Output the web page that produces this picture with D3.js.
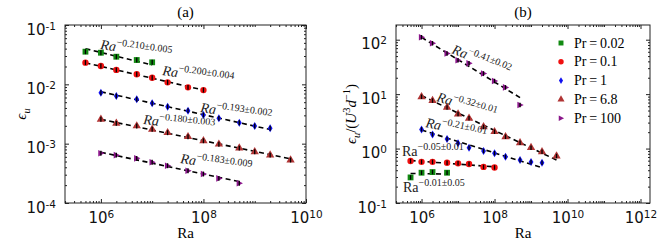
<!DOCTYPE html>
<html>
<head>
<meta charset="utf-8">
<script src="https://cdn.jsdelivr.net/npm/d3@7"></script>
<style>
  body { margin: 0; background: #fff; }
  svg { display: block; }
  .tick text { font-family: "DejaVu Sans", sans-serif; }
</style>
</head>
<body>
<script>
(function(){

    //Rayleigh numbers of the runs, per Prandtl number
    var ra002 = [5e5, 1e6, 2e6, 5e6, 1e7];
    var ra01  = [5e5, 1e6, 2e6, 5e6, 1e7, 2e7, 5e7, 1e8];
    var ra1   = [1e6, 2e6, 5e6, 1e7, 2e7, 5e7, 1e8, 2e8, 5e8, 1e9, 2e9];
    var ra68  = [1e6, 2e6, 5e6, 1e7, 2e7, 5e7, 1e8, 2e8, 5e8, 1e9, 2e9, 5e9];
    var ra100 = [1e6, 2e6, 5e6, 1e7, 2e7, 5e7, 1e8, 2e8, 5e8];

    //panel (a): dissipation rate eps_u
    var epsA002 = [0.0355, 0.0341, 0.0292, 0.0257, 0.0235];
    var epsA01  = [0.0232, 0.0204, 0.0175, 0.0148, 0.0129, 0.0108, 0.0089, 0.0080];
    var epsA1   = [0.00723, 0.00635, 0.0056, 0.00479, 0.0042, 0.0036, 0.00304, 0.00267, 0.00225, 0.00199, 0.00182];
    var epsA68  = [0.00258, 0.0022, 0.00199, 0.00175, 0.00153, 0.00131, 0.00112, 0.00098, 0.00084, 0.00073, 0.00064, 0.00053];
    var epsA100 = [0.00069, 0.00064, 0.000566, 0.000485, 0.000425, 0.00035, 0.000308, 0.00026, 0.000215];

    //panel (b): eps_u / (U^3 d^-1)
    var raB002  = [5e5, 1e6, 2e6, 5e6];
    var epsB002 = [0.295, 0.36, 0.37, 0.36];
    var epsB01  = [0.59, 0.57, 0.57, 0.55, 0.535, 0.52, 0.46, 0.45];
    var epsB1   = [2.25, 1.82, 1.50, 1.25, 1.035, 0.90, 0.82, 0.71, 0.615, 0.565, 0.55];
    var epsB68  = [8.96, 7.6, 5.7, 4.3, 3.6, 2.5, 2.04, 1.65, 1.28, 1.04, 0.87, 0.73];
    var epsB100 = [111, 86, 56, 42, 36.8, 24, 17.4, 13.3, 6.3];

    //fitted exponents and their text
    var slopeA = [-0.210, -0.200, -0.193, -0.180, -0.183];
    var slopeTextA = ["\u22120.210\u00b10.005", "\u22120.200\u00b10.004", "\u22120.193\u00b10.002", "\u22120.180\u00b10.003", "\u22120.183\u00b10.009"];
    var slopeB = [-0.01, -0.05, -0.21, -0.32, -0.41];
    var slopeTextB = ["\u22120.01\u00b10.05", "\u22120.05\u00b10.01", "\u22120.21\u00b10.01", "\u22120.32\u00b10.01", "\u22120.41\u00b10.02"];

    var prLabels = ["Pr\u2009=\u20090.02", "Pr\u2009=\u20090.1", "Pr\u2009=\u20091", "Pr\u2009=\u20096.8", "Pr\u2009=\u2009100"];

    //tick exponents
    var xTickExpA = [6, 8, 10], yTickExpA = [-4, -3, -2, -1];
    var xTickExpB = [6, 8, 10, 12], yTickExpB = [-1, 0, 1, 2];

    //styles
    var colors = ["#128a12", "#f01010", "#1010f0", "#b03434", "#8a168a"];
    var shapes = ["square", "circle", "diamond", "triangle", "tright"];
    var relErr = 0.1;
    var serif = "'Liberation Serif', 'DejaVu Serif', serif";

    var svg = d3.select("body").append("svg")
        .attr("width", 667)
        .attr("height", 243);

    //annotation layout: [x, y, angle, italic]
    var annA = [[100, 49, 8, true], [162, 75, 8, true], [200, 112, 8, true], [143, 124, 6, true], [180, 163, 8, true]];
    var annB = [[403, 192, 0, false], [402, 156, 0, false], [425, 127, 12, true], [436, 101, 17, true], [451, 53, 22, true]];

    drawPanel({
        xr: [65, 306], yr: [203, 25],
        xd: [Math.pow(10, 5.3), 1e10], yd: [1e-4, 1e-1],
        xe: xTickExpA, ye: yTickExpA,
        ras: [ra002, ra01, ra1, ra68, ra100],
        vals: [epsA002, epsA01, epsA1, epsA68, epsA100],
        slopes: slopeA, slopeText: slopeTextA, ann: annA,
        title: "(a)"
    });

    drawPanel({
        xr: [396, 650], yr: [203, 25],
        xd: [Math.pow(10, 5.3), Math.pow(10, 12.26)], yd: [0.1, Math.pow(10, 2.27)],
        xe: xTickExpB, ye: yTickExpB,
        ras: [raB002, ra01, ra1, ra68, ra100],
        vals: [epsB002, epsB01, epsB1, epsB68, epsB100],
        slopes: slopeB, slopeText: slopeTextB, ann: annB,
        title: "(b)"
    });

    //y labels
    richText(svg.append("text")
        .attr("transform", "translate(26,114) rotate(-90)")
        .attr("text-anchor", "middle")
        .style("font-family", serif)
        .style("font-size", "15px"),
        [{t: "\u03f5", i: true}, {t: "u", i: true, sh: 4, fs: 10.5}]);

    richText(svg.append("text")
        .attr("transform", "translate(356,114) rotate(-90)")
        .attr("text-anchor", "middle")
        .style("font-family", serif)
        .style("font-size", "15px"),
        [{t: "\u03f5", i: true}, {t: "u", i: true, sh: 4, fs: 10.5}, {t: "/(", sh: 0},
         {t: "U", i: true}, {t: "3", sh: -6, fs: 10.5}, {t: "d", i: true, sh: 0},
         {t: "\u22121", sh: -6, fs: 10.5}, {t: ")", sh: 0}]);

    //legend
    var legend = svg.append("g").attr("transform", "translate(561,43)");
    prLabels.forEach(function(lab, i){
        var row = legend.append("g").attr("transform", "translate(0," + (i * 18.8) + ")");
        row.append("path")
            .attr("d", markerPath(shapes[i], 0.85))
            .attr("fill", colors[i]);
        row.append("text")
            .attr("x", 13)
            .attr("y", 4.5)
            .style("font-family", serif)
            .style("font-size", "14px")
            .text(lab);
    });

    function drawPanel(c){
        var x = d3.scaleLog().domain(c.xd).range(c.xr);
        var y = d3.scaleLog().domain(c.yd).range(c.yr);
        var g = svg.append("g");

        var xMajor = c.xe.map(function(e){ return Math.pow(10, e); });
        var yMajor = c.ye.map(function(e){ return Math.pow(10, e); });
        var xMinor = minorTicks(c.xd).filter(function(v){ return xMajor.indexOf(v) < 0; });
        var yMinor = minorTicks(c.yd).filter(function(v){ return yMajor.indexOf(v) < 0; });

        var top = c.yr[1], bottom = c.yr[0], left = c.xr[0], right = c.xr[1];

        //minor ticks on all sides
        g.append("g").attr("transform", "translate(0," + bottom + ")")
            .call(d3.axisBottom(x).tickValues(xMinor).tickSize(-2).tickFormat(""));
        g.append("g").attr("transform", "translate(0," + top + ")")
            .call(d3.axisTop(x).tickValues(xMinor).tickSize(-2).tickFormat(""));
        g.append("g").attr("transform", "translate(" + left + ",0)")
            .call(d3.axisLeft(y).tickValues(yMinor).tickSize(-2).tickFormat(""));
        g.append("g").attr("transform", "translate(" + right + ",0)")
            .call(d3.axisRight(y).tickValues(yMinor).tickSize(-2).tickFormat(""));

        //major ticks with labels
        var xb = g.append("g").attr("transform", "translate(0," + bottom + ")")
            .call(d3.axisBottom(x).tickValues(xMajor).tickSize(-4).tickPadding(9));
        g.append("g").attr("transform", "translate(0," + top + ")")
            .call(d3.axisTop(x).tickValues(xMajor).tickSize(-4).tickFormat(""));
        var yl = g.append("g").attr("transform", "translate(" + left + ",0)")
            .call(d3.axisLeft(y).tickValues(yMajor).tickSize(-4).tickPadding(9));
        g.append("g").attr("transform", "translate(" + right + ",0)")
            .call(d3.axisRight(y).tickValues(yMajor).tickSize(-4).tickFormat(""));

        g.selectAll(".domain").remove();
        g.selectAll(".tick line").attr("stroke", "#222");

        [xb, yl].forEach(function(ax){
            ax.selectAll(".tick text")
                .style("font-size", "15px")
                .attr("fill", "#111")
                .each(function(d){
                    var t = d3.select(this);
                    var e = Math.round(Math.log10(d));
                    t.text("");
                    t.append("tspan").text("10");
                    t.append("tspan").attr("dy", "-0.45em").style("font-size", "10.5px").text(e < 0 ? "-" + (-e) : e);
                });
        });
        yl.selectAll(".tick text").attr("dy", "0.6em");

        //frame
        g.append("rect")
            .attr("x", left).attr("y", top)
            .attr("width", right - left).attr("height", bottom - top)
            .attr("fill", "none")
            .attr("stroke", "#222")
            .attr("stroke-width", 1);

        //fit lines
        c.ras.forEach(function(ra, i){
            var vals = c.vals[i], s = c.slopes[i];
            var lx = d3.mean(ra, function(v){ return Math.log10(v); });
            var ly = d3.mean(vals, function(v){ return Math.log10(v); });
            var ends = d3.extent(ra);
            var line = d3.line()
                .x(function(d){ return x(d); })
                .y(function(d){ return y(Math.pow(10, ly + s * (Math.log10(d) - lx))); });
            g.append("path")
                .datum(ends)
                .attr("d", line)
                .attr("fill", "none")
                .attr("stroke", "#000")
                .attr("stroke-width", 1.6)
                .attr("stroke-dasharray", "5,3.5");
        });

        //markers and error bars
        c.ras.forEach(function(ra, i){
            var pts = ra.map(function(r, j){ return [r, c.vals[i][j]]; });
            var grp = g.append("g");
            grp.selectAll("path")
                .data(pts)
                .enter()
                .append("path")
                .attr("transform", function(d){ return "translate(" + x(d[0]) + "," + y(d[1]) + ")"; })
                .attr("d", markerPath(shapes[i], 1))
                .attr("fill", colors[i]);
            grp.selectAll("line")
                .data(pts)
                .enter()
                .append("line")
                .attr("x1", function(d){ return x(d[0]); })
                .attr("x2", function(d){ return x(d[0]); })
                .attr("y1", function(d){ return y(d[1] * (1 + relErr)); })
                .attr("y2", function(d){ return y(d[1] / (1 + relErr)); })
                .attr("stroke", "#000")
                .attr("stroke-width", 1.3);
        });

        //annotations
        c.ann.forEach(function(a, i){
            var t = g.append("text")
                .attr("transform", "translate(" + a[0] + "," + a[1] + ") rotate(" + a[2] + ")")
                .style("font-family", serif)
                .style("font-size", "14px")
                .attr("fill", "#222");
            richText(t, [{t: "Ra", i: a[3]}, {t: c.slopeText[i], sh: -6, fs: 10}]);
        });

        //title and x label
        svg.append("text")
            .attr("x", (left + right) / 2)
            .attr("y", 17)
            .attr("text-anchor", "middle")
            .style("font-family", serif)
            .style("font-size", "15px")
            .text(c.title);
        svg.append("text")
            .attr("x", (left + right) / 2)
            .attr("y", 238)
            .attr("text-anchor", "middle")
            .style("font-family", serif)
            .style("font-size", "15px")
            .text("Ra");
    }

    function minorTicks(dom){
        var out = [];
        var lo = Math.floor(Math.log10(dom[0])), hi = Math.ceil(Math.log10(dom[1]));
        for (var e = lo; e <= hi; e++){
            for (var k = 1; k <= 9; k++){
                var v = k * Math.pow(10, e);
                if (v >= dom[0] && v <= dom[1]) out.push(+v.toPrecision(6));
            }
        }
        return out;
    }

    function markerPath(shape, k){
        if (shape == "square") return d3.symbol(d3.symbolSquare, 34 * k * k)();
        if (shape == "circle") return d3.symbol(d3.symbolCircle, 32 * k * k)();
        if (shape == "triangle") return d3.symbol(d3.symbolTriangle, 30 * k * k)();
        if (shape == "tright"){
            var h = 3.3 * k;
            return "M" + (-h * 0.8) + "," + (-h) + "L" + (h * 1.1) + ",0L" + (-h * 0.8) + "," + h + "Z";
        }
        //thin diamond
        var w = 2.4 * k, v = 4 * k;
        return "M0," + (-v) + "L" + w + ",0L0," + v + "L" + (-w) + ",0Z";
    }

    function richText(t, parts){
        var cur = 0;
        parts.forEach(function(p){
            var target = p.sh || 0;
            var ts = t.append("tspan").text(p.t);
            if (target != cur) ts.attr("dy", target - cur);
            cur = target;
            if (p.i) ts.style("font-style", "italic");
            if (p.fs) ts.style("font-size", p.fs + "px");
        });
    }

})();
</script>
</body>
</html>
